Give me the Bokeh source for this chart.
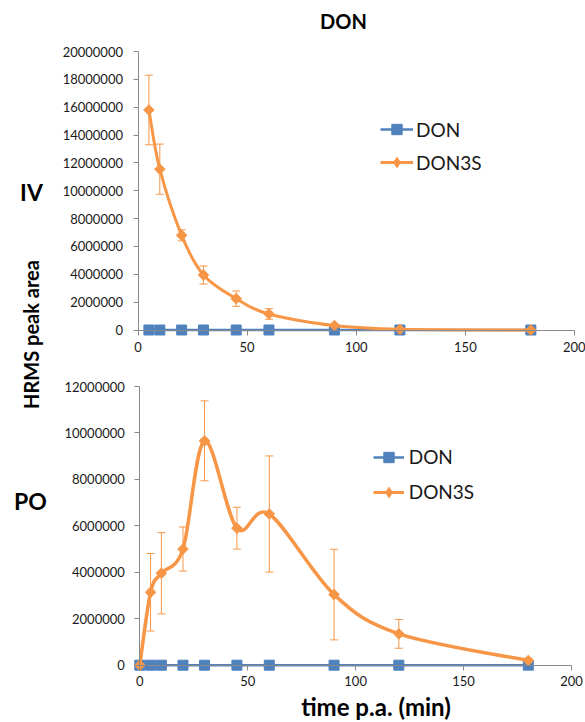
import numpy as np
from bokeh.plotting import figure
from bokeh.layouts import row, column
from bokeh.models import (Range1d, LinearAxis, FixedTicker, BasicTickFormatter, Label,
                          Legend, LegendItem, Whisker, TeeHead, ColumnDataSource)
from bokeh.embed import file_html
from bokeh.resources import INLINE

# ---------------- data ----------------
TIME_IV = [5, 10, 20, 30, 45, 60, 90, 120, 180]
IV_DON = [0, 0, 0, 0, 0, 0, 0, 0, 0]
IV_DON3S = [15800000, 11550000, 6800000, 3950000, 2250000, 1150000, 320000, 50000, 0]
IV_DON3S_ERR = [2500000, 1800000, 400000, 650000, 550000, 380000, 0, 0, 0]

TIME_PO = [0, 5, 10, 20, 30, 45, 60, 90, 120, 180]
PO_DON = [0, 0, 0, 0, 0, 0, 0, 0, 0, 0]
PO_DON3S = [0, 3140000, 3960000, 5000000, 9660000, 5900000, 6510000, 3040000, 1350000, 200000]
PO_DON3S_ERR = [0, 1670000, 1750000, 950000, 1720000, 900000, 2500000, 1950000, 620000, 100000]

X_TICKS = [0, 50, 100, 150, 200]
IV_Y_TICKS = [0, 2000000, 4000000, 6000000, 8000000, 10000000, 12000000, 14000000,
              16000000, 18000000, 20000000]
PO_Y_TICKS = [0, 2000000, 4000000, 6000000, 8000000, 10000000, 12000000]

TITLE = "DON"
SERIES = ["DON", "DON3S"]
PANELS = ["IV", "PO"]
Y_LABEL = "HRMS peak area"
X_LABEL = "time p.a. (min)"

BLUE = "#4F81BD"
ORANGE = "#F79646"
AXIS = "#898989"
TXT = "#1a1a1a"
FONT = "Lato"

PAGE_W, PAGE_H = 585, 722
STRIP_W = 52
TOP_H = 365


def smooth_parts(xs, ys):
    """Cubic Bezier control points (Excel-like smoothed line) through the data."""
    x = np.asarray(xs, float)
    y = np.asarray(ys, float)
    n = len(x)
    xp = np.concatenate([[x[0]], x, [x[-1]]])
    yp = np.concatenate([[y[0]], y, [y[-1]]])
    return dict(
        x0=x[:-1], y0=y[:-1], x1=x[1:], y1=y[1:],
        cx0=x[:-1] + (xp[2:n + 1] - xp[0:n - 1]) / 6.0,
        cy0=y[:-1] + (yp[2:n + 1] - yp[0:n - 1]) / 6.0,
        cx1=x[1:] - (xp[3:n + 2] - xp[1:n]) / 6.0,
        cy1=y[1:] - (yp[3:n + 2] - yp[1:n]) / 6.0,
    )


def ranges_from_pixels(px0, px200, py0, pytop, ytop, left, right, top, bottom):
    """Data ranges so that the frame [left..right]x[top..bottom] (page px) puts
    x=0 at px0, x=200 at px200, y=0 at py0 and y=ytop at pytop."""
    sx = (px200 - px0) / 200.0
    sy = (py0 - pytop) / ytop
    xr = Range1d((left - px0) / sx, (right - px0) / sx)
    yr = Range1d(-(bottom - py0) / sy, (py0 - top) / sy)
    return xr, yr, sx, sy


def make_panel(t, don, don3s, err, yticks, ymax, page_top, height,
               px0, px200, py0, pytop, lw, legend_xy, glyph_w, spacing, standoff, xstand):
    xr, yr, sx, sy = ranges_from_pixels(px0, px200, py0, pytop, ymax,
                                        STRIP_W, PAGE_W, page_top, page_top + height)
    p = figure(width=PAGE_W - STRIP_W, height=height, output_backend="svg",
               toolbar_location=None, x_range=xr, y_range=yr,
               x_axis_location=None, y_axis_location=None, min_border=0)
    p.outline_line_color = None
    p.xgrid.visible = False
    p.ygrid.visible = False
    p.background_fill_color = "white"
    p.border_fill_color = "white"

    xa = LinearAxis(fixed_location=0, bounds=(0, 200), ticker=FixedTicker(ticks=X_TICKS))
    ya = LinearAxis(fixed_location=0, bounds=(0, ymax), ticker=FixedTicker(ticks=yticks),
                    formatter=BasicTickFormatter(use_scientific=False))
    for a in (xa, ya):
        a.axis_line_color = AXIS
        a.major_tick_line_color = AXIS
        a.major_tick_out = 5
        a.major_tick_in = 0
        a.minor_tick_line_color = None
        a.major_label_text_font = FONT
        a.major_label_text_font_size = "13px"
        a.major_label_text_color = TXT
    ya.major_label_standoff = 10
    xa.major_label_standoff = xstand
    p.add_layout(xa, "below")
    p.add_layout(ya, "left")

    # error bars
    e_t = [tt for tt, e in zip(t, err) if e > 0]
    e_hi = [v + e for v, e in zip(don3s, err) if e > 0]
    e_lo = [v - e for v, e in zip(don3s, err) if e > 0]
    esrc = ColumnDataSource(dict(t=e_t, hi=e_hi, lo=e_lo))
    wh = Whisker(source=esrc, base="t", upper="hi", lower="lo", line_color=ORANGE,
                 line_width=1,
                 upper_head=TeeHead(size=8, line_color=ORANGE, line_width=1),
                 lower_head=TeeHead(size=8, line_color=ORANGE, line_width=1))
    p.add_layout(wh)

    # DON (blue)
    p.line(t, don, line_color=BLUE, line_width=2.5)
    p.scatter(t, don, marker="square", size=10, fill_color=BLUE, line_color=BLUE)

    # DON3S (orange, smoothed)
    bz = smooth_parts(t, don3s)
    p.bezier(source=ColumnDataSource(bz), x0="x0", y0="y0", x1="x1", y1="y1",
             cx0="cx0", cy0="cy0", cx1="cx1", cy1="cy1",
             line_color=ORANGE, line_width=lw, line_cap="round")
    p.scatter(t, don3s, marker="square", angle=np.pi / 4, size=7.5,
              fill_color=ORANGE, line_color=ORANGE)

    # legend proxies (no data drawn, only legend glyphs)
    nan = [float("nan")]
    l1 = p.line(nan, nan, line_color=BLUE, line_width=2.5)
    m1 = p.scatter(nan, nan, marker="square", size=10, fill_color=BLUE, line_color=BLUE)
    l2 = p.line(nan, nan, line_color=ORANGE, line_width=3)
    m2 = p.scatter(nan, nan, marker="diamond", size=10,
                   fill_color=ORANGE, line_color=ORANGE)
    leg = Legend(items=[LegendItem(label=SERIES[0], renderers=[l1, m1]),
                        LegendItem(label=SERIES[1], renderers=[l2, m2])],
                 location=legend_xy, margin=0, padding=0, spacing=spacing,
                 glyph_width=glyph_w, glyph_height=26, label_height=20,
                 label_standoff=standoff, label_text_font=FONT,
                 label_text_font_size="19px", label_text_color=TXT,
                 border_line_color=None, background_fill_alpha=0)
    p.add_layout(leg, "center")
    return p, sx, sy


# top panel: frame covers page x 52..585, y 0..365
p1, sx1, sy1 = make_panel(TIME_IV, IV_DON, IV_DON3S, IV_DON3S_ERR, IV_Y_TICKS, 20000000,
                          0, TOP_H, 137.5, 574.0, 329.5, 51.0, 3,
                          (380 - STRIP_W, TOP_H - 175.3), 33, 7, 3, 7)
p1.add_layout(Label(x=(343 - 137.5) / sx1, y=(329.5 - 20.7) / sy1, text=TITLE,
                    text_align="center", text_baseline="middle", text_font=FONT,
                    text_font_style="bold", text_font_size="20px", text_color="black"))

# bottom panel: frame covers page x 52..585, y 365..722
p2, sx2, sy2 = make_panel(TIME_PO, PO_DON, PO_DON3S, PO_DON3S_ERR, PO_Y_TICKS, 12000000,
                          TOP_H, PAGE_H - TOP_H, 139.3, 571.0, 664.7, 386.0, 3.5,
                          (372.7 - STRIP_W, PAGE_H - 504.7), 31, 9, 5, 6)
p2.add_layout(Label(x=(375.5 - 139.3) / sx2, y=-(706 - 664.7) / sy2, text=X_LABEL,
                    text_align="center", text_baseline="middle", text_font=FONT,
                    text_font_style="bold", text_font_size="24px", text_color="black"))

# left strip with panel names and shared y label (data units = page pixels)
pl = figure(width=STRIP_W, height=PAGE_H, output_backend="svg", toolbar_location=None,
            x_range=Range1d(0, STRIP_W), y_range=Range1d(0, PAGE_H),
            x_axis_location=None, y_axis_location=None, min_border=0)
pl.outline_line_color = None
pl.xgrid.visible = False
pl.ygrid.visible = False
pl.add_layout(Label(x=31, y=PAGE_H - 191.7, text=PANELS[0], text_align="center",
                    text_baseline="middle", text_font=FONT, text_font_style="bold",
                    text_font_size="23px", text_color="black"))
pl.add_layout(Label(x=30, y=PAGE_H - 500, text=PANELS[1], text_align="center",
                    text_baseline="middle", text_font=FONT, text_font_style="bold",
                    text_font_size="23px", text_color="black"))
pl.add_layout(Label(x=30, y=PAGE_H - 334, text=Y_LABEL, angle=np.pi / 2,
                    text_align="center", text_baseline="middle", text_font=FONT,
                    text_font_style="bold", text_font_size="20px", text_color="black"))

layout = row(pl, column(p1, p2, spacing=0), spacing=0)
open("out.html", "w").write(file_html(layout, INLINE))
